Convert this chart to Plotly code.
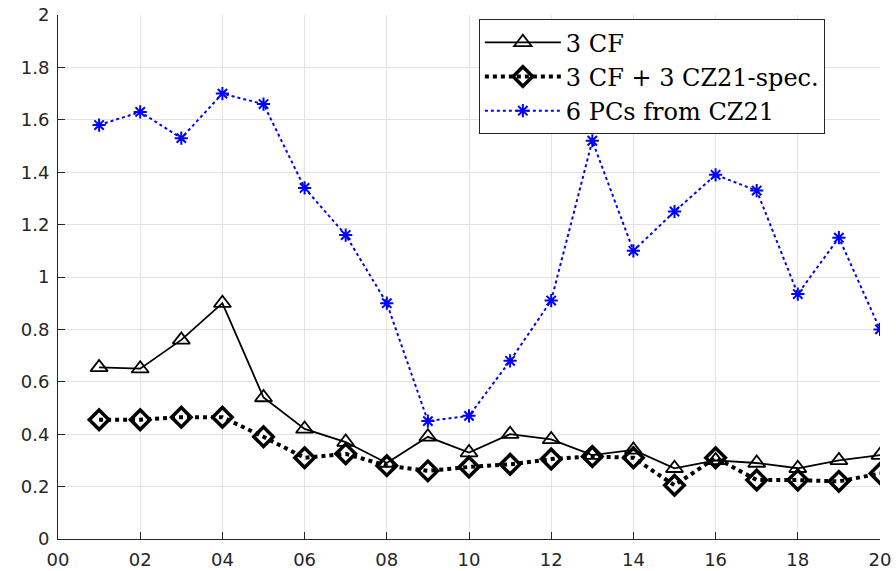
import plotly.graph_objects as go

years = list(range(1, 21))
tick_vals = list(range(0, 21, 2))
tick_text = ["00", "02", "04", "06", "08", "10", "12", "14", "16", "18", "20"]
y_tick_vals = [0, 0.2, 0.4, 0.6, 0.8, 1, 1.2, 1.4, 1.6, 1.8, 2]
y_tick_text = ["0", "0.2", "0.4", "0.6", "0.8", "1", "1.2", "1.4", "1.6", "1.8", "2"]
series_names = ["3 CF", "3 CF + 3 CZ21-spec.", "6 PCs from CZ21"]

cf3 = [0.655, 0.65, 0.76, 0.90, 0.54, 0.42, 0.37, 0.29, 0.39, 0.33,
       0.40, 0.38, 0.32, 0.34, 0.27, 0.30, 0.29, 0.27, 0.30, 0.32]
cf3_cz = [0.455, 0.455, 0.465, 0.465, 0.39, 0.31, 0.325, 0.28, 0.26, 0.275,
          0.285, 0.305, 0.315, 0.31, 0.205, 0.31, 0.225, 0.225, 0.22, 0.25]
pcs6 = [1.58, 1.63, 1.53, 1.70, 1.66, 1.34, 1.16, 0.90, 0.45, 0.47,
        0.68, 0.91, 1.52, 1.10, 1.25, 1.39, 1.33, 0.935, 1.15, 0.80]

fig = go.Figure()
fig.add_trace(go.Scatter(
    x=years, y=cf3, name=series_names[0], mode="lines+markers",
    line=dict(color="black", width=1.8),
    marker=dict(symbol="triangle-up-open", size=15, color="black", line=dict(width=1.8))))
fig.add_trace(go.Scatter(
    x=years, y=cf3_cz, name=series_names[1], mode="lines+markers",
    line=dict(color="black", width=4, dash="dot"),
    marker=dict(symbol="diamond-open", size=15, color="black", line=dict(width=3.5))))
fig.add_trace(go.Scatter(
    x=years, y=pcs6, name=series_names[2], mode="lines+markers",
    line=dict(color="#0000ff", width=2, dash="dot"),
    marker=dict(symbol="asterisk-open", size=11, color="#0000ff", line=dict(width=2, color="#0000ff"))))

axis_common = dict(
    showgrid=True, gridcolor="#e3e3e3", gridwidth=1,
    showline=True, linecolor="#262626", linewidth=1,
    ticks="inside", ticklen=7, tickcolor="#262626",
    tickfont=dict(family="DejaVu Sans, Liberation Sans", size=18, color="#262626"),
    zeroline=False, mirror=False, automargin=False,
)
fig.update_xaxes(range=[0, 20], tickvals=tick_vals, ticktext=tick_text,
                 ticklabelstandoff=4, **axis_common)
fig.update_yaxes(range=[0, 2], tickvals=y_tick_vals, ticktext=y_tick_text,
                 ticklabelstandoff=4, **axis_common)

fig.update_layout(
    width=896, height=571,
    margin=dict(l=58, r=16, t=15, b=32),
    plot_bgcolor="white", paper_bgcolor="white",
    showlegend=True,
    legend=dict(
        x=0.512, y=0.992, xanchor="left", yanchor="top",
        bgcolor="white", bordercolor="#262626", borderwidth=1,
        font=dict(family="DejaVu Serif, Liberation Serif", size=24, color="black"),
        itemwidth=76, tracegroupgap=0,
    ),
)

fig.write_html("out.html")
